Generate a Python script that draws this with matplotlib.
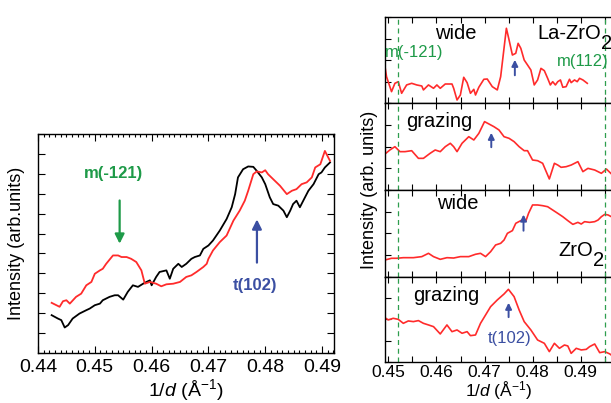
import matplotlib
matplotlib.use("Agg")
import matplotlib.pyplot as plt
from matplotlib.ticker import MultipleLocator, NullFormatter

plt.rcParams['font.family'] = ['Liberation Sans', 'DejaVu Sans']
plt.rcParams['mathtext.fontset'] = 'custom'
plt.rcParams['mathtext.rm'] = 'Liberation Sans'
plt.rcParams['mathtext.it'] = 'Liberation Sans:italic'

RED = '#ff2b2b'
GREEN = '#1e9a48'
BLUE = '#3b4fa2'

# ---------------- left panel data ----------------
left_red_x = [0.4424,0.4438,0.4444,0.4450,0.4456,0.4467,0.4476,0.4485,0.4494,0.4500,
              0.4509,0.4514,0.4520,0.4532,0.4541,0.4547,0.4556,0.4564,0.4573,0.4582,
              0.4588,0.4597,0.4608,0.4617,0.4626,0.4638,0.4650,0.4661,0.4670,0.4679,
              0.4691,0.4697,0.4700,0.4708,0.4720,0.4732,0.4744,0.4755,0.4764,0.4770,
              0.4779,0.4785,0.4794,0.4800,0.4805,0.4814,0.4826,0.4838,0.4847,0.4855,
              0.4864,0.4873,0.4882,0.4888,0.4897,0.4905,0.4914]
left_red_y = [2.52,2.32,2.60,2.65,2.48,2.82,2.98,3.40,3.57,3.98,
              4.15,4.23,4.48,4.90,4.90,4.82,4.82,4.73,4.57,4.15,
              3.48,3.57,3.48,3.35,3.45,3.48,3.57,3.82,3.90,4.07,
              4.32,4.48,4.73,5.15,5.57,5.90,6.65,7.15,7.65,8.15,
              8.98,9.12,9.07,9.18,8.98,8.73,8.40,7.98,8.15,8.23,
              8.48,8.57,8.82,9.32,9.48,10.15,9.65]
left_black_x = [0.4424,0.4435,0.4441,0.4447,0.4453,0.4461,0.4473,0.4485,0.4491,0.4500,
                0.4509,0.4514,0.4526,0.4535,0.4541,0.4550,0.4558,0.4567,0.4576,0.4585,
                0.4591,0.4597,0.4600,0.4608,0.4614,0.4626,0.4632,0.4638,0.4647,0.4653,
                0.4661,0.4670,0.4676,0.4685,0.4691,0.4700,0.4708,0.4720,0.4732,0.4741,
                0.4747,0.4752,0.4761,0.4770,0.4779,0.4785,0.4794,0.4800,0.4808,0.4814,
                0.4823,0.4832,0.4838,0.4844,0.4849,0.4855,0.4861,0.4870,0.4876,0.4885,
                0.4894,0.4899,0.4905,0.4914]
left_black_y = [1.90,1.73,1.65,1.28,1.40,1.73,1.98,2.15,2.23,2.40,
                2.48,2.65,2.82,2.90,2.90,2.68,3.07,3.40,3.32,3.48,
                3.57,3.65,3.40,3.82,4.07,4.15,3.73,4.23,4.48,4.32,
                4.48,4.73,4.82,4.90,5.23,5.40,5.65,6.15,6.73,7.32,
                7.98,8.82,9.23,9.37,9.35,9.15,8.82,8.48,7.82,7.48,
                7.40,7.15,6.82,7.15,7.48,7.65,7.32,7.82,8.15,8.48,
                8.98,9.07,9.32,9.57]
left_xticks = [0.44, 0.45, 0.46, 0.47, 0.48, 0.49]
left_xticklabels = ['0.44', '0.45', '0.46', '0.47', '0.48', '0.49']

# ---------------- right panels data ----------------
la_wide_x = [0.4493,0.44962,0.45066,0.45136,0.45206,0.45276,0.45380,0.45485,0.45590,0.45695,
             0.45729,0.45834,0.45939,0.46009,0.46079,0.46183,0.46323,0.46358,0.46428,0.46497,
             0.46567,0.46637,0.46707,0.46777,0.46812,0.46881,0.46986,0.47056,0.47161,0.47265,
             0.47335,0.47454,0.47510,0.47579,0.47649,0.47698,0.47754,0.47824,0.47894,0.47963,
             0.48033,0.48103,0.48173,0.48243,0.48312,0.48368,0.48417,0.48473,0.48522,0.48578,
             0.48627,0.48696,0.48766,0.48801,0.48871,0.48927,0.48975,0.49045,0.49136]
la_wide_y = [4.23,3.06,1.32,2.29,2.48,1.13,2.10,2.29,2.10,1.98,
             1.52,2.10,1.71,2.10,1.71,2.21,2.21,1.71,0.35,0.93,
             2.99,2.37,1.13,1.59,0.93,1.83,2.76,2.79,1.90,1.52,
             3.06,8.69,7.33,5.58,5.78,6.94,6.36,5.00,4.42,3.84,
             2.10,2.68,4.03,3.76,2.87,2.10,2.48,2.10,2.48,2.68,
             1.83,1.90,2.76,2.37,2.68,2.48,2.87,2.68,2.29]

la_graz_x = [0.4493,0.45031,0.45136,0.45241,0.45346,0.45485,0.45625,0.45729,0.45869,0.45974,
             0.46079,0.46183,0.46288,0.46358,0.46428,0.46532,0.46672,0.46777,0.46881,0.47000,
             0.47091,0.47195,0.47300,0.47405,0.47510,0.47614,0.47719,0.47824,0.47894,0.47998,
             0.48103,0.48208,0.48347,0.48452,0.48522,0.48592,0.48696,0.48801,0.48941,0.49045,
             0.49150,0.49290,0.49429,0.49534,0.49660]
la_graz_y = [4.14,4.60,4.98,4.41,4.41,4.52,3.64,3.64,4.22,4.60,
             4.41,4.98,5.37,4.98,4.41,5.37,6.13,5.75,6.51,7.86,
             7.59,7.28,6.90,6.13,5.94,5.56,4.98,4.52,4.52,3.45,
             3.37,3.07,1.27,3.07,2.87,2.61,2.68,2.87,3.26,2.11,
             2.49,2.30,1.92,2.41,1.73]

zr_wide_x = [0.44927,0.45066,0.45171,0.45311,0.45520,0.45695,0.45834,0.45939,0.46079,0.46218,
             0.46358,0.46497,0.46672,0.46812,0.46916,0.47021,0.47126,0.47230,0.47335,0.47405,
             0.47475,0.47579,0.47649,0.47754,0.47859,0.47915,0.47998,0.48103,0.48208,0.48312,
             0.48417,0.48522,0.48627,0.48731,0.48836,0.48941,0.49010,0.49080,0.49185,0.49290,
             0.49360,0.49429,0.49499,0.49569,0.49660]
zr_wide_y = [1.95,2.15,2.15,2.22,2.22,2.34,2.72,2.34,2.03,2.22,
             2.18,2.34,2.34,2.61,2.72,2.34,2.91,3.68,3.87,4.25,
             5.02,5.33,6.17,6.48,6.44,7.32,8.28,8.28,8.20,8.08,
             7.70,7.32,6.93,6.48,6.05,6.28,6.09,6.36,6.28,6.36,
             6.55,6.93,7.20,7.13,6.86]

zr_graz_x = [0.44927,0.44997,0.45101,0.45206,0.45311,0.45415,0.45520,0.45625,0.45729,0.45834,
             0.45939,0.46079,0.46218,0.46323,0.46428,0.46532,0.46637,0.46707,0.46812,0.46916,
             0.47021,0.47126,0.47265,0.47405,0.47496,0.47614,0.47719,0.47824,0.47963,0.48103,
             0.48243,0.48347,0.48452,0.48557,0.48661,0.48731,0.48801,0.48906,0.49010,0.49115,
             0.49185,0.49290,0.49394,0.49499,0.49604,0.49660]
zr_graz_y = [5.22,4.95,5.14,5.02,4.55,4.83,4.75,4.87,4.55,4.36,
             4.16,3.30,4.36,3.57,3.77,3.38,3.57,3.10,3.18,4.55,
             5.53,6.51,7.30,8.00,8.55,7.69,6.12,4.75,3.77,2.59,
             2.20,1.22,2.20,1.61,2.00,1.89,1.02,1.61,1.42,1.49,
             1.81,2.12,1.10,1.22,0.95,0.71]

right_xticks = [0.45, 0.46, 0.47, 0.48, 0.49]
right_xticklabels = ['0.45', '0.46', '0.47', '0.48', '0.49']
m_lines = [0.4521, 0.4950]
peak_arrows_x = [0.4763, 0.4714, 0.4781, 0.4750]

fig = plt.figure(figsize=(6.11, 4.03), dpi=100)

# ---------------- left panel ----------------
axL = fig.add_axes([0.0622, 0.1241, 0.4844, 0.5434])
axL.plot(left_black_x, left_black_y, color='black', lw=1.3)
axL.plot(left_red_x, left_red_y, color=RED, lw=1.3)
axL.set_xlim(0.44, 0.4921)
axL.set_ylim(0, 11)
axL.set_xticks(left_xticks)
axL.set_xticklabels(left_xticklabels)
axL.xaxis.set_minor_locator(MultipleLocator(0.001))
axL.yaxis.set_major_locator(MultipleLocator(1))
axL.yaxis.set_major_formatter(NullFormatter())
axL.tick_params(axis='both', which='both', direction='in', top=True, right=True,
                labelsize=14, width=0.8)
axL.tick_params(axis='y', which='major', length=5)
axL.tick_params(axis='x', which='major', length=5, pad=4)
axL.tick_params(axis='x', which='minor', length=2.5)
for s in axL.spines.values():
    s.set_linewidth(1.0)
axL.set_xlabel('1/$d$ (Å$^{-1}$)', fontsize=14, labelpad=1)
axL.set_ylabel('Intensity (arb.units)', fontsize=13, labelpad=6)

axL.annotate('', xy=(0.45437, 5.35), xytext=(0.45437, 7.8),
             arrowprops=dict(arrowstyle='-|>', color=GREEN, lw=1.6, mutation_scale=14))
axL.text(0.4533, 9.0, 'm(-121)', color=GREEN, fontsize=12, fontweight='bold',
         ha='center', va='center')
axL.annotate('', xy=(0.47854, 6.85), xytext=(0.47854, 4.4),
             arrowprops=dict(arrowstyle='-|>', color=BLUE, lw=1.6, mutation_scale=14))
axL.text(0.4782, 3.4, 't(102)', color=BLUE, fontsize=12, fontweight='bold',
         ha='center', va='center')

# ---------------- right panels ----------------
bounds = [0.9578, 0.7444, 0.5285, 0.3127, 0.1017]
series = [(la_wide_x, la_wide_y), (la_graz_x, la_graz_y),
          (zr_wide_x, zr_wide_y), (zr_graz_x, zr_graz_y)]
arrow_y = [(2.9, 5.35), (4.6, 6.9), (5.0, 7.5), (4.95, 7.3)]
axes_r = []
for i in range(4):
    top = bounds[i]
    bot = bounds[i + 1]
    ax = fig.add_axes([0.6301, bot, 1.004 - 0.6301, top - bot])
    xs, ys = series[i]
    ax.plot(xs, ys, color=RED, lw=1.2)
    ax.set_xlim(0.4493, 0.4968)
    ax.set_ylim(0, 10)
    for xv in m_lines:
        ax.axvline(xv, color='#2e9e4e', lw=0.9, ls=(0, (4, 3)))
    ax.set_xticks(right_xticks)
    ax.xaxis.set_minor_locator(MultipleLocator(0.005))
    ax.yaxis.set_major_locator(MultipleLocator(2.5))
    ax.yaxis.set_major_formatter(NullFormatter())
    ax.tick_params(axis='both', which='both', direction='in', top=True, right=False,
                   length=4, width=0.8)
    if i < 3:
        ax.xaxis.set_major_formatter(NullFormatter())
    else:
        ax.set_xticklabels(right_xticklabels)
        ax.tick_params(axis='x', labelsize=12.5, pad=2)
    for s in ax.spines.values():
        s.set_linewidth(1.0)
    ax.annotate('', xy=(peak_arrows_x[i], arrow_y[i][1]), xytext=(peak_arrows_x[i], arrow_y[i][0]),
                arrowprops=dict(arrowstyle='-|>', color=BLUE, lw=1.4, mutation_scale=9))
    axes_r.append(ax)

a1, a2, a3, a4 = axes_r
a1.text(0.4640, 8.1, 'wide', fontsize=14.5, ha='center', va='center')
a1.text(0.4943, 8.1, 'La-ZrO', fontsize=14.5, ha='right', va='center')
a1.text(0.4943, 6.9, '2', fontsize=14.5, ha='left', va='center')
a1.text(0.4553, 5.9, 'm(-121)', fontsize=12, color=GREEN, ha='center', va='center')
a1.text(0.4905, 4.8, 'm(112)', fontsize=12, color=GREEN, ha='center', va='center')
a2.text(0.4605, 7.9, 'grazing', fontsize=14.5, ha='center', va='center')
a3.text(0.4645, 8.4, 'wide', fontsize=14.5, ha='center', va='center')
a3.text(0.4925, 3.1, 'ZrO', fontsize=14.5, ha='right', va='center')
a3.text(0.4925, 1.9, '2', fontsize=14.5, ha='left', va='center')
a4.text(0.4620, 7.8, 'grazing', fontsize=14.5, ha='center', va='center')
a4.text(0.4752, 2.8, 't(102)', fontsize=12, color=BLUE, ha='center', va='center')

a4.set_xlabel('1/$d$ (Å$^{-1}$)', fontsize=12.5, labelpad=0)
fig.text(0.6055, 0.528, 'Intensity (arb. units)', rotation=90, fontsize=13,
         ha='center', va='center')

fig.savefig('out.png', dpi=100)
